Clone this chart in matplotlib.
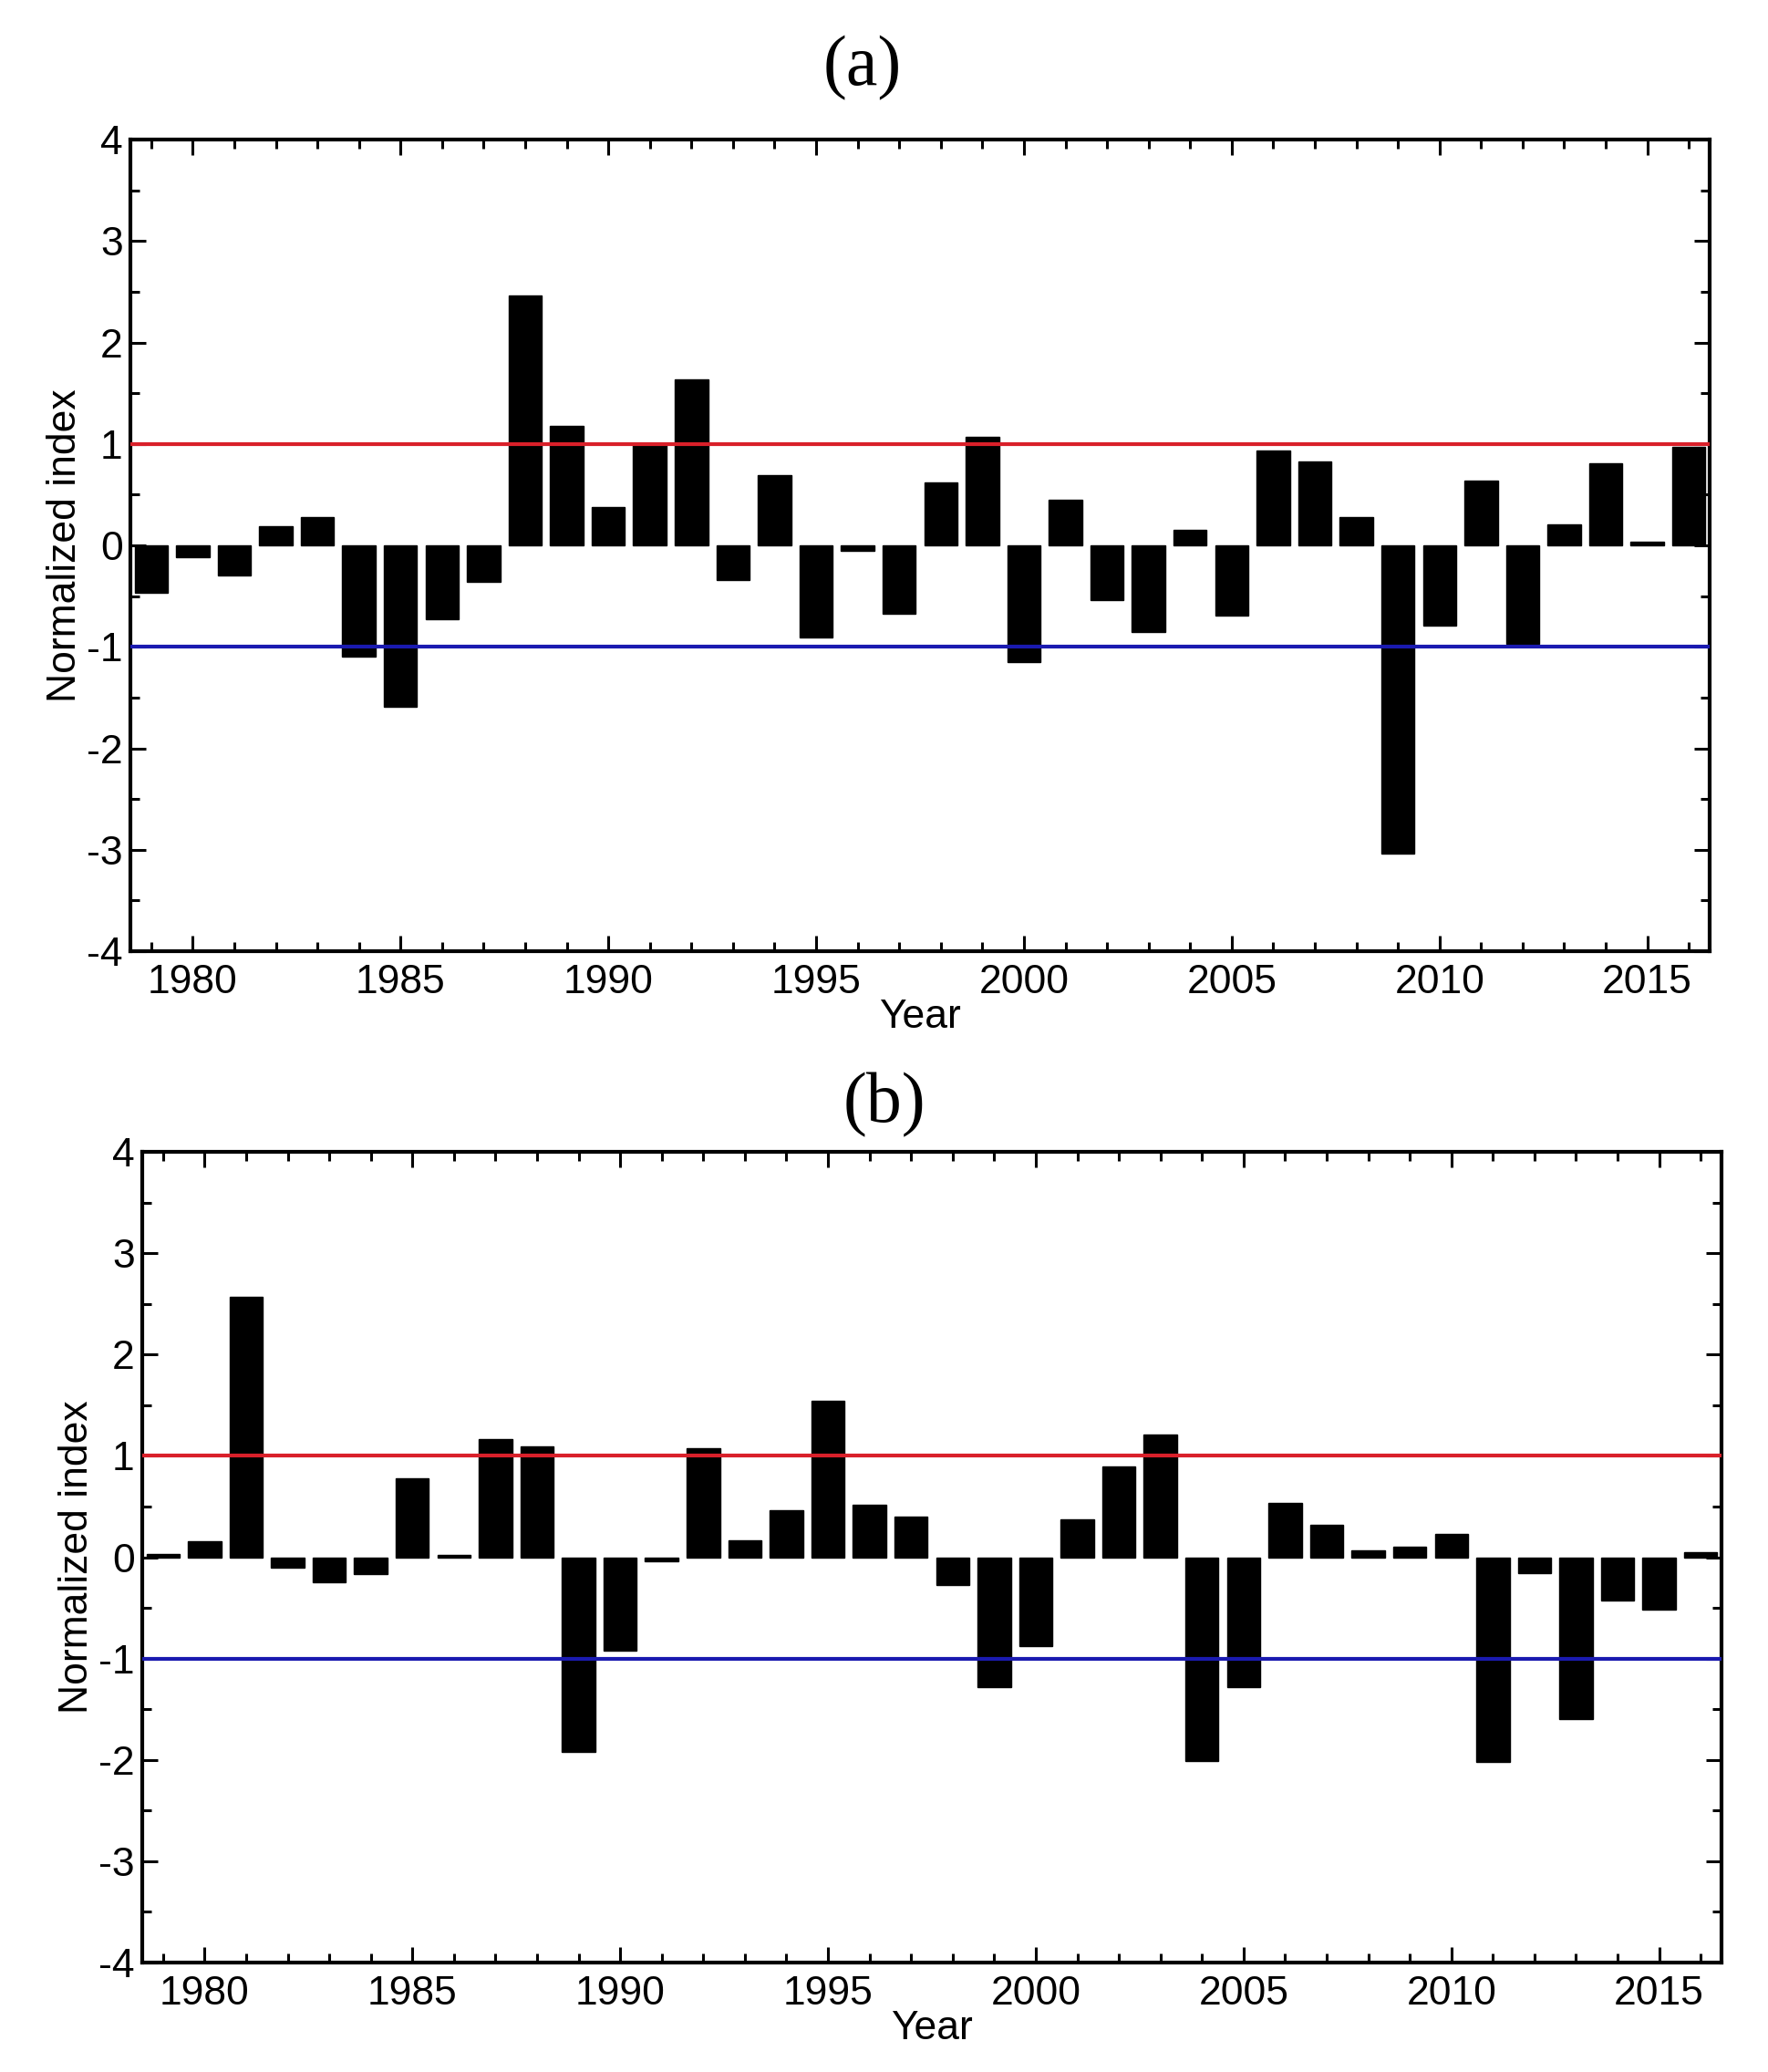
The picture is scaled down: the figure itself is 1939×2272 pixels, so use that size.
import numpy as np
import matplotlib.pyplot as plt
from matplotlib.ticker import MultipleLocator

years = list(range(1979, 2017))

# panel (a) normalized index
index_a = [-0.47, -0.12, -0.30, 0.19, 0.28, -1.10, -1.59, -0.73, -0.36, 2.46,
           1.18, 0.38, 1.01, 1.64, -0.34, 0.69, -0.91, -0.05, -0.67, 0.62,
           1.07, -1.15, 0.45, -0.54, -0.85, 0.15, -0.69, 0.94, 0.83, 0.28,
           -3.04, -0.79, 0.64, -0.97, 0.21, 0.81, 0.04, 0.97]

# panel (b) normalized index
index_b = [0.03, 0.16, 2.57, -0.10, -0.25, -0.17, 0.78, 0.02, 1.17, 1.09,
           -1.92, -0.92, -0.04, 1.08, 0.17, 0.46, 1.54, 0.52, 0.40, -0.27,
           -1.28, -0.88, 0.37, 0.90, 1.21, -2.01, -1.28, 0.54, 0.32, 0.07,
           0.10, 0.23, -2.02, -0.16, -1.60, -0.43, -0.52, 0.05]

panel_labels = ['(a)', '(b)']
thresholds = [1, -1]

plt.rcParams['font.family'] = ['Liberation Sans', 'DejaVu Sans']
plt.rcParams['axes.unicode_minus'] = False

fig = plt.figure(figsize=(19.4, 22.72), dpi=100)

"""axes boxes and panel titles in figure fractions"""
boxes = [[0.0737, 0.5409, 0.8928, 0.3917],
         [0.0804, 0.0528, 0.8928, 0.3913]]
title_pos = [(0.4876, 0.967), (0.5, 0.4666)]

for box, vals, lab, tp in zip(boxes, [index_a, index_b], panel_labels, title_pos):
    ax = fig.add_axes(box)
    ax.bar(years, vals, width=0.8, color='black', edgecolor='black', zorder=2)
    ax.axhline(thresholds[0], color='#d9202a', lw=3, zorder=3)
    ax.axhline(thresholds[1], color='#1a1ab0', lw=3, zorder=3)
    ax.set_xlim(1978.5, 2016.5)
    ax.set_ylim(-4, 4)
    ax.xaxis.set_major_locator(MultipleLocator(5))
    ax.xaxis.set_minor_locator(MultipleLocator(1))
    ax.yaxis.set_major_locator(MultipleLocator(1))
    ax.yaxis.set_minor_locator(MultipleLocator(0.5))
    ax.tick_params(which='both', direction='in', top=True, right=True,
                   width=2.2, labelsize=32)
    ax.tick_params(which='major', length=12.5)
    ax.tick_params(which='minor', length=7)
    ax.tick_params(axis='x', pad=10)
    ax.tick_params(axis='y', pad=6)
    for sp in ax.spines.values():
        sp.set_linewidth(3)
    ax.set_xlabel('Year', fontsize=32, labelpad=-2)
    ax.set_ylabel('Normalized index', fontsize=32, labelpad=2)
    fig.text(tp[0], tp[1], lab, fontsize=56, family=['Liberation Serif'],
             ha='center', va='center')

fig.savefig('out.png', dpi=100)
